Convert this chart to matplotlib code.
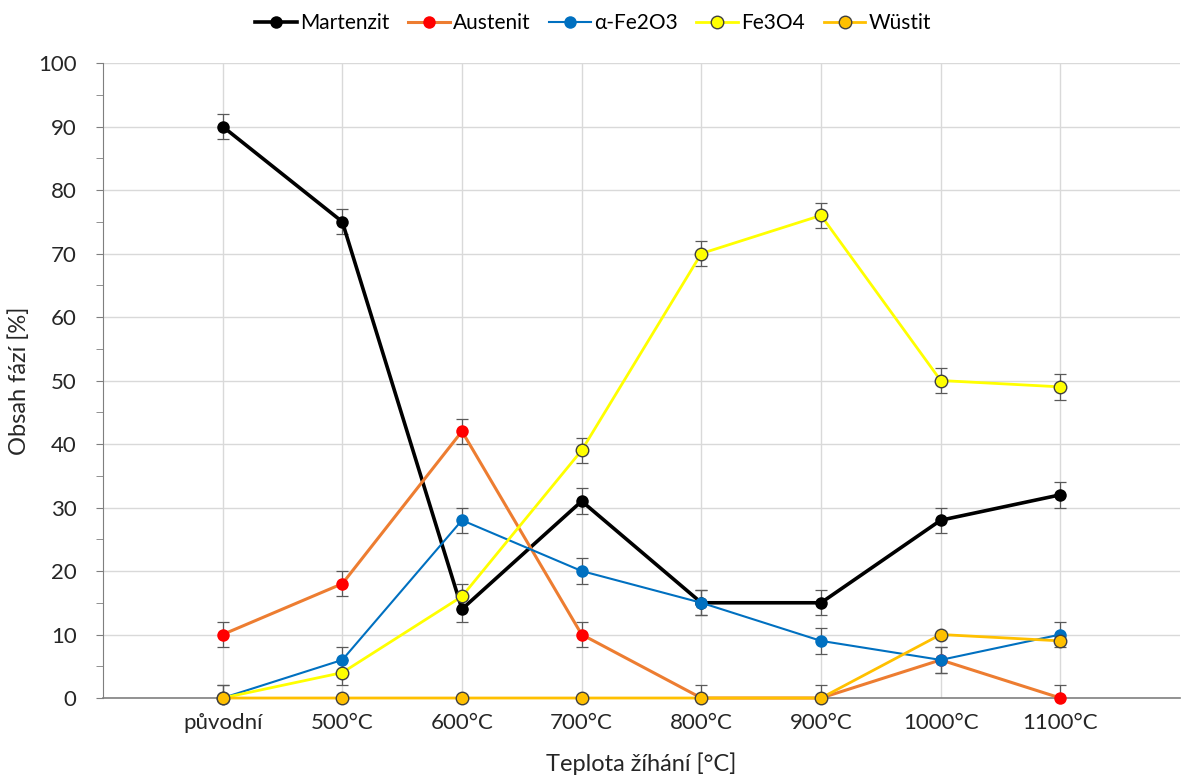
import numpy as np
import matplotlib.pyplot as plt

plt.rcParams['font.family'] = ['Lato', 'DejaVu Sans']

categories = ['původní', '500°C', '600°C', '700°C', '800°C', '900°C', '1000°C', '1100°C']
martenzit = [90, 75, 14, 31, 15, 15, 28, 32]
austenit = [10, 18, 42, 10, 0, 0, 6, 0]
fe2o3 = [0, 6, 28, 20, 15, 9, 6, 10]
fe3o4 = [0, 4, 16, 39, 70, 76, 50, 49]
wustit = [0, 0, 0, 0, 0, 0, 10, 9]
err = 2

x = np.arange(len(categories))

fig = plt.figure(figsize=(11.86, 7.78), dpi=100)
ax = fig.add_axes([0.0868, 0.1028, 0.9082, 0.8162])

series = [
    ('Martenzit', martenzit, 'black', 'black', 'black', 2.6, True),
    ('Austenit', austenit, '#ED7D31', 'red', 'red', 2.2, True),
    ('α-Fe2O3', fe2o3, '#0070C0', '#0070C0', '#0070C0', 1.5, True),
    ('Fe3O4', fe3o4, '#FFFF00', '#FFFF00', '#404040', 2.0, True),
    ('Wüstit', wustit, '#FFC000', '#FFC000', '#404040', 2.0, False),
]

for name, vals, lc, mfc, mec, lw, has_err in series:
    vals = np.array(vals, dtype=float)
    if has_err:
        lower = np.minimum(err, vals)
        ax.errorbar(x, vals, yerr=[lower, np.full_like(vals, err)], fmt='none',
                    ecolor='#595959', elinewidth=0.9, capsize=4, capthick=0.9, zorder=2)
    ax.plot(x, vals, color=lc, lw=lw, marker='o', ms=9, mfc=mfc, mec=mec,
            mew=1.0 if mec == '#404040' else 0, label=name, zorder=3, clip_on=False)

ax.set_xlim(-1, 8)
ax.set_ylim(0, 100)
ax.set_xticks(x)
ax.set_xticklabels(categories)
ax.set_yticks(np.arange(0, 101, 10))
ax.set_yticks(np.arange(5, 100, 10), minor=True)
ax.tick_params(axis='x', length=0, labelsize=16, pad=11, colors='#262626')
ax.tick_params(axis='y', which='both', direction='out', length=5, color='#7f7f7f',
               labelsize=16, pad=14, labelcolor='#262626')
ax.grid(True, color='#d9d9d9', lw=1)
ax.set_axisbelow(True)
for s in ['top', 'right']:
    ax.spines[s].set_visible(False)
ax.spines['left'].set_color('#7f7f7f')
ax.spines['bottom'].set_color('#7f7f7f')
ax.spines['bottom'].set_linewidth(1.2)

ax.set_ylabel('Obsah fází [%]', fontsize=17, color='#262626', labelpad=6)
ax.set_xlabel('Teplota žíhání [°C]', fontsize=17, color='#262626', labelpad=14)

fig.legend(loc='upper center', bbox_to_anchor=(0.5, 1.007), ncol=5, frameon=False,
           fontsize=15, handlelength=2.0, handletextpad=0.15, columnspacing=0.9)

fig.savefig('out.png', dpi=100)
